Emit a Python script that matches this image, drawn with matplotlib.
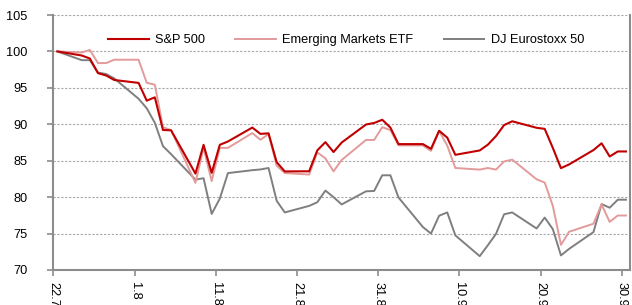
import matplotlib
matplotlib.use("Agg")
import matplotlib.pyplot as plt
import pandas as pd
import numpy as np

plt.rcParams['font.family'] = ['Liberation Sans', 'DejaVu Sans']

dates = pd.to_datetime([
    "2011-07-22", "2011-07-25", "2011-07-26", "2011-07-27", "2011-07-28", "2011-07-29",
    "2011-08-01", "2011-08-02", "2011-08-03", "2011-08-04", "2011-08-05",
    "2011-08-08", "2011-08-09", "2011-08-10", "2011-08-11", "2011-08-12",
    "2011-08-15", "2011-08-16", "2011-08-17", "2011-08-18", "2011-08-19",
    "2011-08-22", "2011-08-23", "2011-08-24", "2011-08-25", "2011-08-26",
    "2011-08-29", "2011-08-30", "2011-08-31", "2011-09-01", "2011-09-02",
    "2011-09-05", "2011-09-06", "2011-09-07", "2011-09-08", "2011-09-09",
    "2011-09-12", "2011-09-13", "2011-09-14", "2011-09-15", "2011-09-16",
    "2011-09-19", "2011-09-20", "2011-09-21", "2011-09-22", "2011-09-23",
    "2011-09-26", "2011-09-27", "2011-09-28", "2011-09-29", "2011-09-30",
])

sp500 = [100, 99.44, 99.03, 97.02, 96.70, 96.08,
         95.68, 93.24, 93.70, 89.22, 89.17,
         83.23, 87.18, 83.33, 87.18, 87.64,
         89.55, 88.68, 88.76, 84.80, 83.53,
         83.55, 86.42, 87.55, 86.19, 87.49,
         89.97, 90.18, 90.62, 89.55, 87.28,
         87.28, 86.63, 89.11, 88.17, 85.81,
         86.41, 87.20, 88.38, 89.89, 90.41,
         89.52, 89.37, 86.75, 83.98, 84.49,
         86.46, 87.39, 85.58, 86.27, 86.27]

em_etf = [100, 99.85, 100.2, 98.4, 98.4, 98.86,
          98.86, 95.7, 95.43, 89.6, 89.2,
          81.96, 86.76, 82.2, 86.76, 86.76,
          88.79, 87.88, 88.65, 84.32, 83.31,
          83.1, 86.14, 85.32, 83.54, 85.1,
          87.85, 87.85, 89.6, 89.2, 87.1,
          87.1, 86.35, 89.1, 87.07, 84.0,
          83.78, 84.0, 83.78, 84.9, 85.15,
          82.45, 82.0, 78.8, 73.45, 75.25,
          76.35, 79.0, 76.6, 77.48, 77.48]

eurostoxx = [100, 98.8, 98.8, 97.1, 96.9, 96.3,
             93.5, 92.2, 90.2, 87.0, 85.9,
             82.4, 82.6, 77.7, 79.8, 83.3,
             83.7, 83.8, 84.0, 79.5, 77.9,
             78.8, 79.3, 80.9, 80.0, 79.0,
             80.8, 80.85, 83.0, 83.0, 79.95,
             75.9, 75.0, 77.45, 77.9, 74.75,
             71.9, 73.4, 74.95, 77.65, 77.9,
             75.7, 77.2, 75.6, 72.0, 72.9,
             75.2, 79.05, 78.55, 79.65, 79.65]

tick_labels = ["22.7", "1.8", "11.8", "21.8", "31.8", "10.9", "20.9", "30.9"]
series_names = ["S&P 500", "Emerging Markets ETF", "DJ Eurostoxx 50"]

start = dates[0]
# points are centred in their day slot (date axis, "between tick marks")
x = (dates - start).days.values + 0.5
tick_pos = np.arange(len(tick_labels)) * 10

W, H = 632, 305
fig = plt.figure(figsize=(W / 100, H / 100), dpi=100)
left, right, top, bottom = 53.3, 630, 15, 270
ax = fig.add_axes([left / W, 1 - bottom / H, (right - left) / W, (bottom - top) / H])

l3, = ax.plot(x, eurostoxx, color="#7f7f7f", lw=1.4, zorder=3)
l2, = ax.plot(x, em_etf, color="#e39a9a", lw=1.4, zorder=4)
l1, = ax.plot(x, sp500, color="#c00000", lw=1.5, zorder=5)

ax.set_xlim(0, 71)
ax.set_ylim(70, 105)
ax.set_yticks(np.arange(70, 106, 5))
ax.set_xticks(tick_pos)
ax.set_xticklabels(tick_labels, rotation=-90)

ax.yaxis.grid(True, color="#a8a8a8", linestyle=(0, (2, 1.5)), linewidth=0.8, zorder=0)
ax.set_axisbelow(True)

for s in ["left", "bottom", "right"]:
    ax.spines[s].set_color("#8c8c8c")
    ax.spines[s].set_linewidth(1.5)
ax.spines["top"].set_visible(False)

fs = 9.2
ax.tick_params(axis="y", direction="out", length=4.5, width=1.2, color="#8c8c8c",
               pad=14, labelsize=fs, labelcolor="#000000")
ax.tick_params(axis="x", direction="out", length=4, width=1.2, color="#8c8c8c",
               pad=5, labelsize=fs, labelcolor="#000000")

ax.legend([l1, l2, l3], series_names, loc="center", bbox_to_anchor=(0.5075, 0.902),
          ncol=3, frameon=False, fontsize=fs, handlelength=3.2, handletextpad=0.5,
          columnspacing=2.35)

fig.savefig("out.png", dpi=100)
